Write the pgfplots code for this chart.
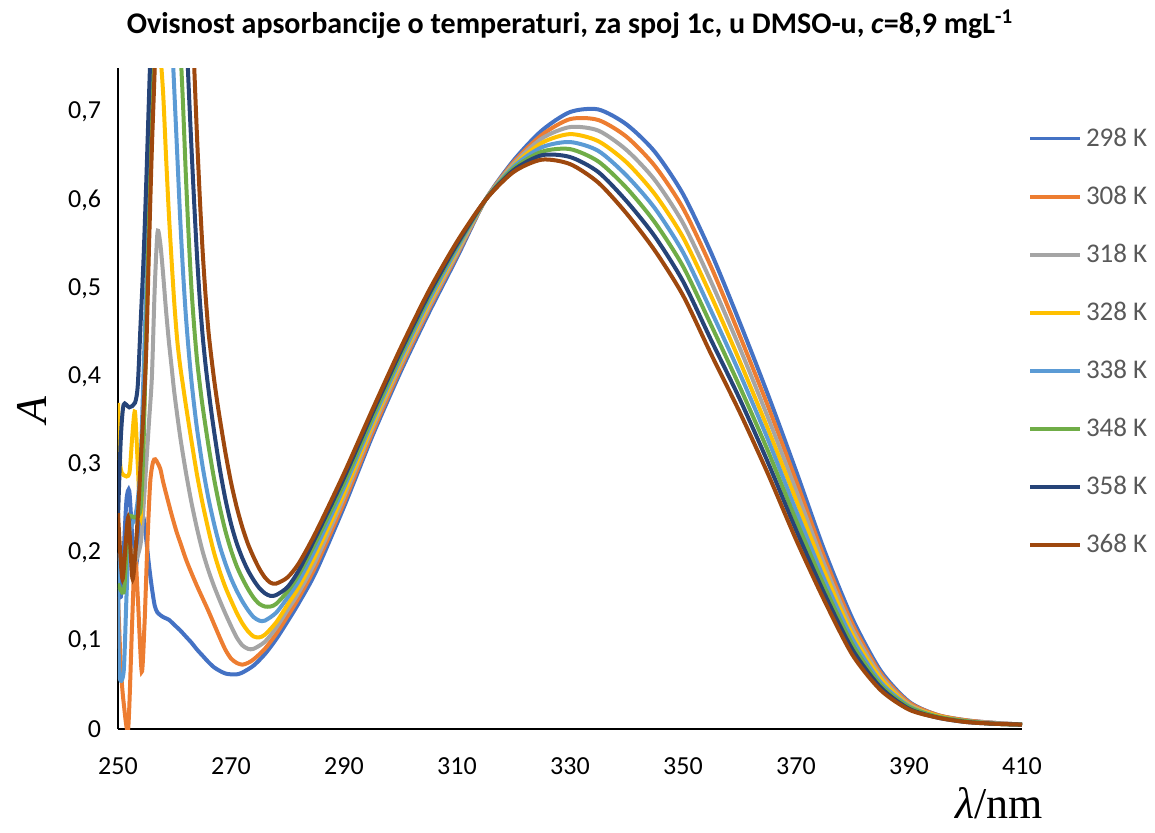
\documentclass[border=0pt]{standalone}
\usepackage{fontspec}
\setmainfont{Carlito}
\newfontfamily\tnr{Liberation Serif}
\usepackage{pgfplots}
\pgfplotsset{compat=1.18}
\definecolor{c298}{HTML}{4472C4}
\definecolor{c308}{HTML}{ED7D31}
\definecolor{c318}{HTML}{A5A5A5}
\definecolor{c328}{HTML}{FFC000}
\definecolor{c338}{HTML}{5B9BD5}
\definecolor{c348}{HTML}{70AD47}
\definecolor{c358}{HTML}{264478}
\definecolor{c368}{HTML}{9E480E}
\definecolor{legtext}{HTML}{595959}
\begin{document}
\begin{tikzpicture}
\path[use as bounding box] (-59pt,-51.5pt) rectangle (518.5pt,364.5pt);
\begin{axis}[
  at={(0pt,0pt)}, anchor=south west,
  scale only axis, width=452pt, height=330.5pt,
  xmin=250, xmax=410, ymin=0, ymax=0.75,
  xtick={250,270,290,310,330,350,370,390,410},
  ytick={0,0.1,0.2,0.3,0.4,0.5,0.6,0.7},
  axis x line*=bottom, axis y line*=left,
  axis line style={line width=1pt, black},
  major tick length=0pt,
  tick label style={font=\fontsize{13}{15}\selectfont},
  /pgf/number format/assume math mode=true,
  /pgf/number format/use comma,
  yticklabel style={xshift=-5pt},
  xticklabel style={yshift=-11pt},
  title={Ovisnost apsorbancije o temperaturi, za spoj 1c, u DMSO-u, \textit{c}=8,9 mgL\textsuperscript{-1}},
  title style={at={(axis description cs:0.5,1)}, anchor=center, yshift=16pt, font=\fontsize{15}{18}\selectfont\bfseries},
  xlabel={{\tnr\itshape λ}{\tnr /nm}},
  xlabel style={at={(axis description cs:1.031,-0.113)}, anchor=east, font=\fontsize{22}{26}\selectfont},
  ylabel={{\tnr\itshape A}},
  ylabel style={at={(axis description cs:-0.095,0.483)}, anchor=center, font=\fontsize{22}{26}\selectfont},
  legend style={at={(axis description cs:1.0,0.922)}, anchor=north west, draw=none, fill=none,
    font=\fontsize{13.5}{16}\selectfont, text=legtext, row sep=14.3pt},
  legend cell align=left,
  legend image code/.code={\draw[#1, line width=1.8pt] (0pt,0pt) -- (25pt,0pt);},
  no markers,
  every axis plot/.append style={line width=2pt, smooth, tension=0.45},
]
\addplot[c298] table {
250 .16
250.5 .15
251 .20
251.5 .26
252 .27
252.5 .22
253 .18
253.5 .20
254 .235
254.5 .24
255 .215
255.5 .185
256 .16
256.5 .14
257 .132
258 .127
259 .124
260 .118
261 .112
262 .105
263 .098
264 .090
265 .083
266 .076
267 .070
268 .066
269 .063
270 .062
271 .062
272 .064
274 .072
276 .085
278 .102
280 .122
282 .143
285 .178
290 .252
295 .332
300 .405
305 .472
310 .535
315 .600
320 .645
325 .679
330 .700
335 .703
340 .686
345 .655
350 .607
355 .540
360 .462
365 .380
370 .293
375 .203
380 .125
385 .066
390 .031
395 .016
400 .010
405 .007
410 .005
};
\addlegendentry{298 K}
\addplot[c308] table {
250 .15
250.5 .07
251 .03
251.8 .00
252.5 .12
253 .20
253.5 .15
254.2 .065
254.7 .12
255.2 .21
255.7 .28
256.2 .303
256.6 .306
257 .302
257.5 .295
258 .28
258.8 .26
259.5 .243
260.4 .223
261 .212
262 .193
263 .177
264 .162
265 .148
266 .134
267 .119
268 .104
269 .090
270 .080
271 .075
272 .073
273 .075
274 .079
276 .091
278 .108
280 .128
282 .149
285 .185
290 .257
295 .336
300 .409
305 .476
310 .538
315 .600
320 .643
325 .674
330 .692
335 .691
340 .672
345 .639
350 .591
355 .524
360 .447
365 .367
370 .282
375 .195
380 .119
385 .063
390 .030
395 .016
400 .010
405 .007
410 .005
};
\addlegendentry{308 K}
\addplot[c318] table {
250 .20
251 .18
252 .21
253 .19
254 .21
254.5 .25
255 .30
255.5 .35
256 .40
256.5 .50
257 .564
257.5 .55
258 .515
258.5 .475
259 .44
259.5 .41
260 .38
261 .332
262 .292
263 .257
264 .227
265 .201
266 .180
267 .162
268 .146
269 .131
270 .117
271 .104
272 .095
273 .091
274 .091
276 .099
278 .115
280 .135
282 .155
285 .191
290 .263
295 .341
300 .413
305 .479
310 .540
315 .600
320 .641
325 .670
330 .683
335 .679
340 .657
345 .623
350 .574
355 .507
360 .433
365 .354
370 .271
375 .187
380 .113
385 .060
390 .028
395 .015
400 .009
405 .007
410 .005
};
\addlegendentry{318 K}
\addplot[c328] table {
250 .37
250.4 .30
251 .288
252 .29
252.5 .33
253 .36
253.5 .30
254 .24
254.5 .33
255 .45
255.5 .57
256 .68
256.5 .76
257 .79
257.5 .765
258 .72
258.5 .65
259 .585
259.5 .53
260 .48
260.5 .44
261 .412
261.5 .39
262 .368
263 .327
264 .288
265 .255
266 .226
267 .200
268 .179
269 .161
270 .146
271 .132
272 .120
273 .111
274 .105
275 .104
276 .107
278 .121
280 .141
282 .161
285 .198
290 .268
295 .345
300 .417
305 .483
310 .543
315 .600
320 .639
325 .665
330 .675
335 .667
340 .643
345 .607
350 .558
355 .491
360 .418
365 .341
370 .260
375 .179
380 .107
385 .057
390 .027
395 .015
400 .009
405 .006
410 .005
};
\addlegendentry{328 K}
\addplot[c338] table {
250 .20
250.2 .065
251 .065
251.5 .15
252 .22
253 .24
253.5 .26
254 .30
254.5 .40
255 .50
255.5 .61
256 .72
256.5 .82
257 .90
257.5 .95
258 .95
258.5 .91
259 .85
259.5 .79
260 .72
260.5 .65
261 .58
261.5 .52
262 .47
262.5 .43
263 .395
263.5 .366
264 .340
265 .297
266 .262
267 .233
268 .208
269 .188
270 .171
271 .157
272 .145
273 .135
274 .127
275 .123
276 .123
278 .132
280 .149
282 .168
285 .205
290 .274
295 .349
300 .420
305 .486
310 .545
315 .600
320 .638
325 .660
330 .666
335 .656
340 .628
345 .591
350 .541
355 .474
360 .404
365 .329
370 .248
375 .170
380 .102
385 .053
390 .026
395 .014
400 .009
405 .006
410 .005
};
\addlegendentry{338 K}
\addplot[c348] table {
250 .165
251 .155
251.5 .20
252 .24
253 .24
254 .25
254.5 .32
255 .45
255.5 .58
256 .70
256.5 .80
257 .92
257.5 1.02
258 1.08
258.5 1.10
259 1.07
259.5 1.01
260 .93
260.5 .85
261 .78
261.5 .71
262 .63
262.5 .56
263 .50
263.5 .455
264 .418
264.5 .39
265 .365
266 .322
267 .284
268 .252
269 .225
270 .203
271 .185
272 .171
273 .159
274 .149
275 .142
276 .139
277 .139
278 .142
280 .156
282 .175
285 .212
290 .279
295 .353
300 .424
305 .490
310 .548
315 .600
320 .636
325 .655
330 .658
335 .644
340 .614
345 .575
350 .525
355 .458
360 .389
365 .316
370 .237
375 .162
380 .096
385 .050
390 .025
395 .014
400 .009
405 .006
410 .005
};
\addlegendentry{348 K}
\addplot[c358] table {
250 .24
250.5 .33
251 .368
252 .365
253 .37
253.5 .39
254 .46
254.5 .53
255 .62
255.5 .72
256 .82
257 1.03
258 1.22
258.5 1.28
259 1.29
259.5 1.26
260 1.20
260.5 1.11
261 1.01
261.5 .91
262 .81
262.5 .73
263 .66
263.5 .595
264 .535
264.5 .485
265 .445
265.5 .413
266 .386
266.5 .361
267 .338
268 .296
269 .261
270 .233
271 .211
272 .194
273 .180
274 .169
275 .160
276 .154
277 .151
278 .152
280 .161
282 .180
285 .218
290 .285
295 .358
300 .428
305 .493
310 .550
315 .600
320 .634
325 .651
330 .649
335 .632
340 .599
345 .559
350 .508
355 .441
360 .375
365 .303
370 .226
375 .154
380 .090
385 .047
390 .023
395 .013
400 .008
405 .006
410 .005
};
\addlegendentry{358 K}
\addplot[c368] table {
250 .245
250.8 .17
251.8 .24
252.6 .17
253.5 .24
254 .30
254.5 .36
255 .43
255.5 .55
256 .66
256.5 .75
257 .86
258 1.08
259 1.30
259.5 1.38
260 1.40
260.5 1.37
261 1.28
261.5 1.17
262 1.05
262.5 .94
263 .84
263.5 .75
264 .67
264.5 .60
265 .54
265.5 .492
266 .452
266.5 .423
267 .397
267.5 .374
268 .353
269 .314
270 .280
271 .252
272 .229
273 .210
274 .195
275 .182
276 .172
277 .166
278 .165
280 .172
282 .188
285 .223
290 .290
295 .362
300 .432
305 .497
310 .553
315 .600
320 .632
325 .646
330 .641
335 .620
340 .585
345 .543
350 .492
355 .425
360 .360
365 .290
370 .215
375 .146
380 .084
385 .044
390 .022
395 .013
400 .008
405 .006
410 .005
};
\addlegendentry{368 K}
\end{axis}
\end{tikzpicture}
\end{document}
